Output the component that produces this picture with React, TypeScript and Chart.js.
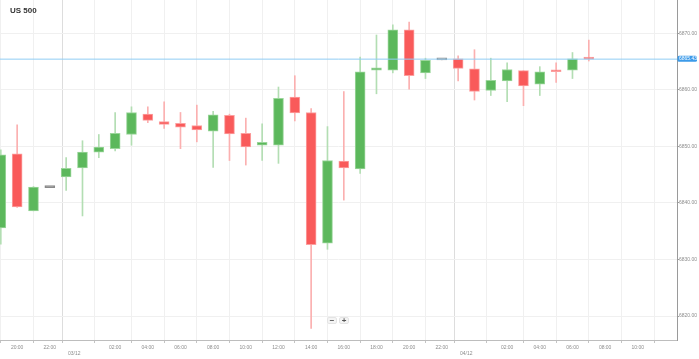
import React, { useEffect, useRef } from 'react';
import { Chart, registerables } from 'chart.js';

Chart.register(...registerables);

// Hourly candles, first candle = 19:00 on 02/12
const opens = [
  6835.6, 6848.7, 6838.6, 6842.7, 6844.6, 6846.2, 6849.0, 6849.6, 6852.1, 6855.7,
  6854.4, 6854.1, 6853.7, 6852.7, 6855.5, 6852.3, 6850.2, 6850.2, 6858.7, 6856.0,
  6832.9, 6847.4, 6846.0, 6863.5, 6863.5, 6870.6, 6863.0, 6865.3, 6865.5, 6863.7,
  6859.9, 6861.6, 6863.4, 6861.0, 6863.5, 6863.5, 6865.8,
];
const highs = [
  6849.4, 6853.8, 6842.9, 6842.7, 6848.0, 6851.0, 6852.1, 6856.0, 6857.0, 6857.0,
  6857.9, 6856.0, 6857.3, 6856.2, 6855.7, 6855.0, 6854.0, 6860.5, 6862.5, 6856.7,
  6853.5, 6859.7, 6865.8, 6869.7, 6871.5, 6872.0, 6865.6, 6865.3, 6866.0, 6867.1,
  6865.6, 6864.8, 6863.4, 6864.1, 6864.8, 6866.6, 6868.8,
];
const lows = [
  6832.7, 6839.2, 6838.6, 6842.7, 6842.2, 6837.7, 6848.0, 6849.2, 6850.2, 6854.2,
  6853.2, 6849.6, 6850.8, 6846.3, 6847.5, 6846.7, 6847.5, 6847.0, 6854.5, 6817.8,
  6831.8, 6840.5, 6845.2, 6859.3, 6863.0, 6860.1, 6862.0, 6865.3, 6861.6, 6858.2,
  6859.0, 6857.9, 6857.2, 6859.0, 6861.3, 6862.0, 6865.1,
];
const closes = [
  6848.5, 6839.3, 6842.8, 6842.7, 6846.1, 6849.0, 6849.9, 6852.3, 6856.0, 6854.6,
  6853.9, 6853.4, 6852.9, 6855.6, 6852.2, 6849.9, 6850.7, 6858.5, 6855.9, 6832.6,
  6847.5, 6846.2, 6863.2, 6863.9, 6870.6, 6862.5, 6865.2, 6865.3, 6863.8, 6859.7,
  6861.7, 6863.6, 6860.7, 6863.2, 6863.2, 6865.5, 6865.43,
];

const currentPrice = 6865.43;
const chartTitle = 'US 500';

const hourTicks = [1, 3, 7, 9, 11, 13, 15, 17, 19, 21, 23, 25, 27, 31, 33, 35, 37, 39];
const hourLabels = [
  '20:00', '22:00', '02:00', '04:00', '06:00', '08:00', '10:00', '12:00', '14:00',
  '16:00', '18:00', '20:00', '22:00', '02:00', '04:00', '06:00', '08:00', '10:00',
];
const dateTicks = [4.5, 28.5];
const dateLabels = ['03/12', '04/12'];

const yTicks = [6820, 6830, 6840, 6850, 6860, 6870];
const xMin = -0.05;
const xMax = 41.4;
const yMin = 6815.76;
const yMax = 6875.89;

export default function App() {
  const ref = useRef<HTMLCanvasElement>(null);

  useEffect(() => {
    if (!ref.current) return;
    const idx = opens.map((_, i) => i);
    const dir = (i: number) => (closes[i] > opens[i] ? 1 : closes[i] < opens[i] ? -1 : 0);
    const bodyColor = idx.map((i) => (dir(i) === 0 ? '#8a8a8a' : dir(i) > 0 ? '#5cb85c' : '#f95a5a'));
    const bodyBorder = idx.map((i) => (dir(i) === 0 ? '#8a8a8a' : dir(i) > 0 ? '#9bd69b' : '#fca0a0'));
    const wickColor = idx.map((i) => (dir(i) === 0 ? '#bbbbbb' : dir(i) > 0 ? '#b3deb3' : '#fbb0b0'));

    const xTickValues = [...hourTicks, ...dateTicks].sort((a, b) => a - b);
    const labelFor = (v: number): string | string[] => {
      const h = hourTicks.indexOf(v);
      if (h >= 0) return hourLabels[h];
      const d = dateTicks.indexOf(v);
      if (d >= 0) return ['', dateLabels[d]];
      return '';
    };

    const priceLabel = {
      id: 'priceLabel',
      afterDraw(chart: any) {
        const { ctx, chartArea, scales } = chart;
        const py = scales.y.getPixelForValue(currentPrice);
        ctx.save();
        ctx.fillStyle = '#3d9be9';
        const x0 = chartArea.right + 0.5;
        const w = 19.5;
        const h = 6;
        ctx.beginPath();
        if ((ctx as any).roundRect) (ctx as any).roundRect(x0, py - h / 2 - 0.5, w, h, 1.5);
        else ctx.rect(x0, py - h / 2 - 0.5, w, h);
        ctx.fill();
        ctx.fillStyle = '#ffffff';
        ctx.font = '5px "Liberation Sans", Arial, sans-serif';
        ctx.textBaseline = 'middle';
        ctx.textAlign = 'left';
        ctx.fillText(currentPrice.toFixed(2), x0 + 1.5, py - 0.5);
        ctx.restore();
      },
    };

    const chart = new Chart(ref.current, {
      type: 'bar',
      data: {
        datasets: [
          {
            type: 'line',
            data: [
              { x: xMin - 1, y: currentPrice },
              { x: xMax + 1, y: currentPrice },
            ],
            borderColor: '#90cdf4',
            borderWidth: 1,
            pointRadius: 0,
            order: -1,
          } as any,
          {
            data: idx.map((i) => ({ x: i, y: [opens[i], closes[i]] })),
            backgroundColor: bodyColor,
            borderColor: bodyBorder,
            borderWidth: 1,
            borderSkipped: false,
            barThickness: 10,
            minBarLength: 2,
            grouped: false,
            order: 0,
          } as any,
          {
            data: idx.map((i) => ({ x: i, y: [lows[i], highs[i]] })),
            backgroundColor: wickColor,
            borderWidth: 0,
            barThickness: 1,
            grouped: false,
            order: 1,
          } as any,
        ],
      },
      options: {
        animation: false,
        responsive: false,
        maintainAspectRatio: false,
        layout: { padding: 0 },
        plugins: {
          legend: { display: false },
          tooltip: { enabled: false },
          title: { display: false },
        },
        scales: {
          x: {
            type: 'linear',
            min: xMin,
            max: xMax,
            offset: false,
            afterBuildTicks: (s: any) => {
              s.ticks = xTickValues.map((v) => ({ value: v }));
            },
            afterFit: (s: any) => {
              s.height = 19;
              s.paddingLeft = 0;
              s.paddingRight = 0;
            },
            grid: {
              color: (c: any) => (c.tick && dateTicks.includes(c.tick.value) ? '#dddddd' : '#f0f0f0'),
              tickColor: '#c4c4c4',
              tickLength: 3,
            },
            border: { color: '#bdbdbd' },
            ticks: {
              autoSkip: false,
              maxRotation: 0,
              minRotation: 0,
              padding: 1,
              color: '#8c8c8c',
              font: { size: 5, lineHeight: 1.3, family: '"Liberation Sans", Arial, sans-serif' },
              callback: (v: any) => labelFor(Number(v)),
            },
          },
          y: {
            type: 'linear',
            position: 'right',
            min: yMin,
            max: yMax,
            afterBuildTicks: (s: any) => {
              s.ticks = yTicks.map((v) => ({ value: v }));
            },
            afterFit: (s: any) => {
              s.width = 22;
              s.paddingTop = 0;
              s.paddingBottom = 0;
            },
            grid: { color: '#f0f0f0', tickColor: '#9a9a9a', tickLength: 2 },
            border: { color: '#9a9a9a' },
            ticks: {
              padding: 0,
              color: '#8c8c8c',
              font: { size: 5, family: '"Liberation Sans", Arial, sans-serif' },
              callback: (v: any) => Number(v).toFixed(2),
            },
          },
        },
      } as any,
      plugins: [priceLabel],
    });

    return () => chart.destroy();
  }, []);

  const btn: React.CSSProperties = {
    position: 'absolute',
    top: 317,
    width: 10,
    height: 7,
    background: '#f4f4f4',
    border: '1px solid #e4e4e4',
    borderRadius: 2,
    boxSizing: 'border-box',
    color: '#555',
    fontFamily: '"Liberation Sans", Arial, sans-serif',
    fontWeight: 'bold',
    fontSize: 8,
    lineHeight: '5px',
    textAlign: 'center',
  };

  return (
    <div style={{ position: 'fixed', left: 0, top: 0, width: 699, height: 359, background: '#fff', overflow: 'hidden' }}>
      <canvas ref={ref} width={699} height={359} style={{ width: 699, height: 359, display: 'block' }} />
      <div
        style={{
          position: 'absolute',
          left: 10,
          top: 7,
          fontFamily: '"Liberation Sans", Arial, sans-serif',
          fontWeight: 'bold',
          fontSize: 8,
          lineHeight: '8px',
          color: '#333',
        }}
      >
        {chartTitle}
      </div>
      <div style={{ ...btn, left: 327 }}>−</div>
      <div style={{ ...btn, left: 339 }}>+</div>
    </div>
  );
}
